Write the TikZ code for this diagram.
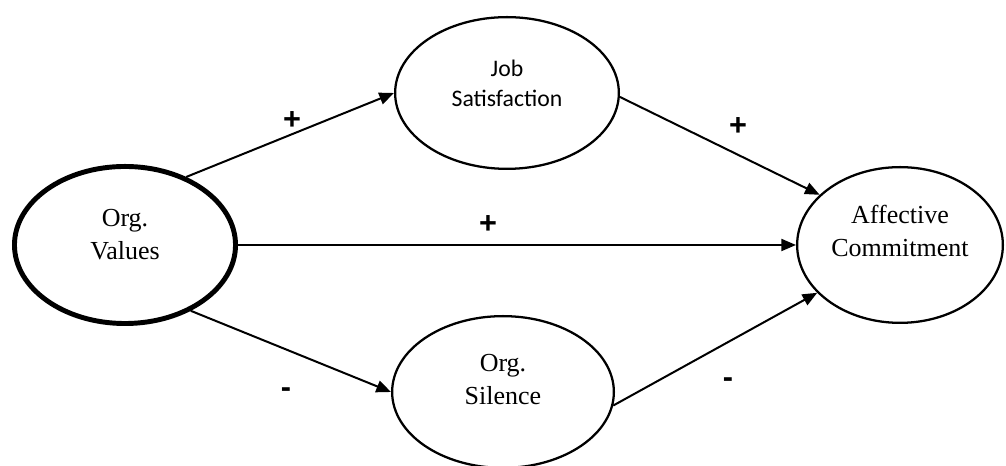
\documentclass[tikz,border=0pt]{standalone}
\usepackage{fontspec}
\setmainfont{Liberation Serif}
\newfontfamily\calibrifont{Carlito}
\newfontfamily\arialfont{Liberation Sans}
\usetikzlibrary{arrows.meta,shapes.geometric}
\begin{document}
\begin{tikzpicture}[x=0.75pt, y=0.75pt,
    blob/.style={draw, ellipse, line width=1.7pt, inner sep=0pt},
    caption/.style={align=center, font=\fontsize{19.5}{25}\selectfont},
    sign/.style={inner sep=0pt, font=\arialfont\bfseries\fontsize{23}{27}\selectfont},
    link/.style={line width=1.5pt, -{Triangle[length=11pt, width=9pt]}}]
    \useasboundingbox (0,0) rectangle (1006,466);
    % constructs
    \node[blob, line width=3.7pt, minimum width=165.8pt, minimum height=117.8pt] (values) at (125,221) {};
    \node[blob, minimum width=167.8pt, minimum height=113.8pt] (jobsat) at (507,373) {};
    \node[blob, minimum width=166.3pt, minimum height=113.8pt] (silence) at (503,74) {};
    \node[blob, minimum width=154.3pt, minimum height=116.8pt] (affect) at (900,221) {};
    \node[caption] (values-txt) at ([yshift=8pt]values.center) {Org.\\Values};
    \node[caption, font=\calibrifont\fontsize{17.8}{22.5}\selectfont] (jobsat-txt) at ([yshift=7pt]jobsat.center) {Job\\Satisfaction};
    \node[caption] (silence-txt) at ([yshift=9.5pt]silence.center) {Org.\\Silence};
    \node[caption] (affect-txt) at ([yshift=10.5pt]affect.center) {Affective\\Commitment};
    % paths
    \draw[link] (values.48) -- (jobsat.west);
    \draw[link] (values.east) -- (affect.west);
    \draw[link] (values.-45) -- (silence.west);
    \draw[link] (jobsat.-2) -- (affect.148);
    \draw[link] (silence.-7) -- (affect.210);
    % signs
    \foreach \p/\s/\n in {{292,345}/+/plus-a, {488,241}/+/plus-b, {738,339}/+/plus-c,
                          {286,73}/-/minus-a, {728,83}/-/minus-b}
      \node[sign] (\n) at (\p) {\s};
\end{tikzpicture}
\end{document}
